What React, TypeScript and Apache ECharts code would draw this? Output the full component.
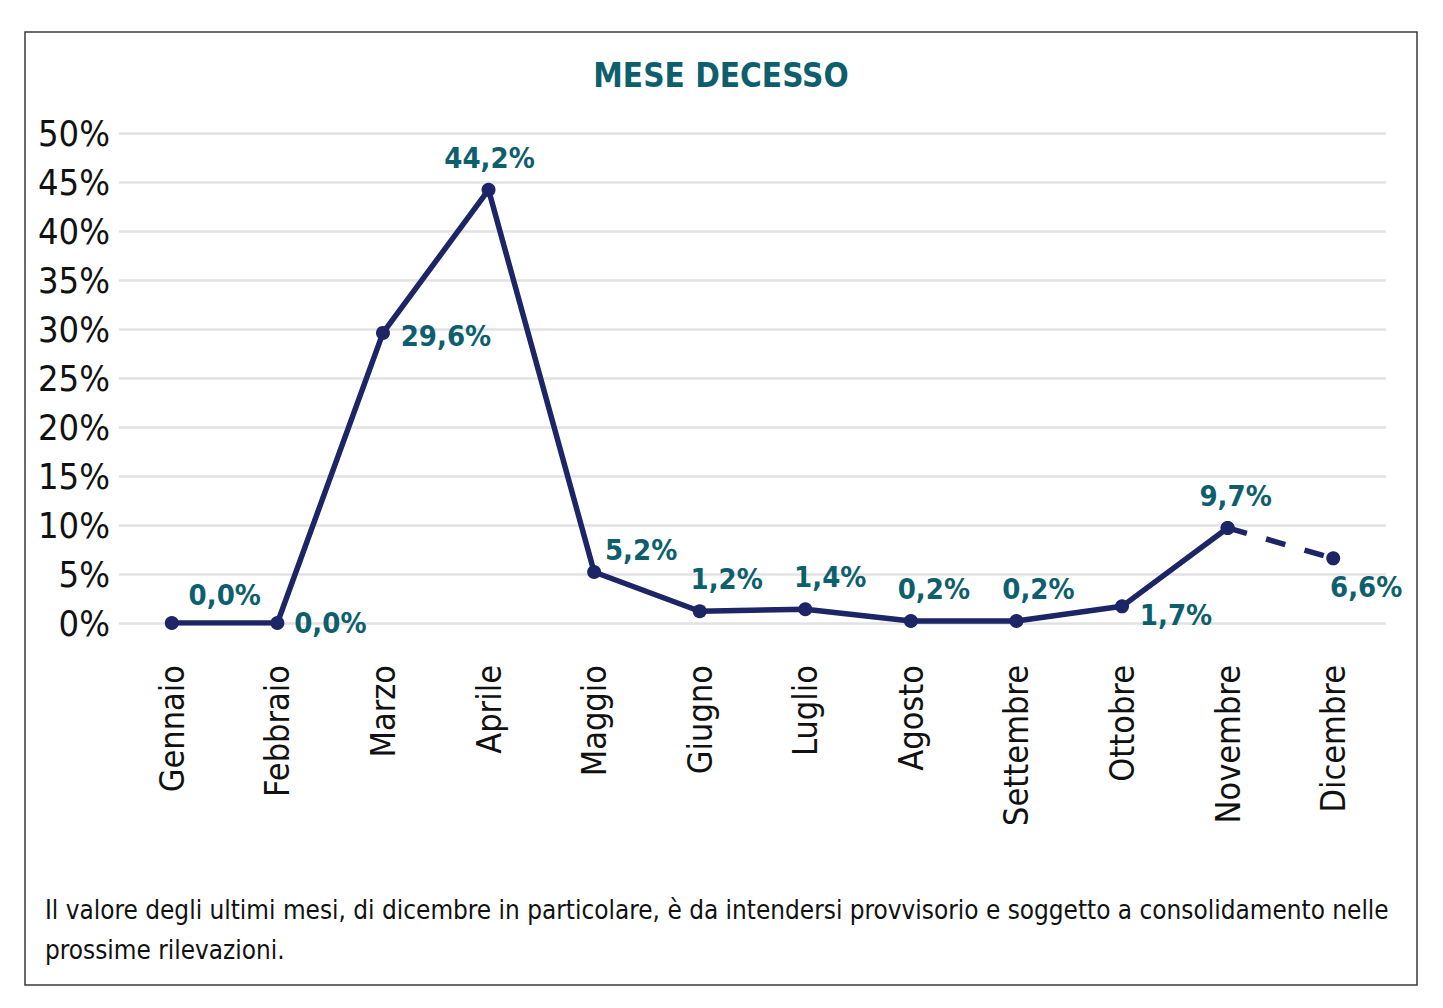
import React, { useEffect, useRef } from "react";
import * as echarts from "echarts";

const categories = ["Gennaio", "Febbraio", "Marzo", "Aprile", "Maggio", "Giugno", "Luglio", "Agosto", "Settembre", "Ottobre", "Novembre", "Dicembre"];
const values = [0.0, 0.0, 29.6, 44.2, 5.2, 1.2, 1.4, 0.2, 0.2, 1.7, 9.7, 6.6];
const provisionalFrom = 10; // Novembre -> Dicembre drawn dashed
const labelOffsets: [number, number][] = [
  [53, -28], [53, 0], [63, 3], [1, -32], [47, -22], [27, -32],
  [25, -32], [23, -32], [22, -32], [54, 9], [8, -32], [33, 29],
];
const titleText = "MESE DECESSO";
const noteLines = [
  "Il valore degli ultimi mesi, di dicembre in particolare, è da intendersi provvisorio e soggetto a consolidamento nelle",
  "prossime rilevazioni.",
];

const FONT = "'Liberation Sans Narrow', 'Arial Narrow', 'DejaVu Sans Condensed', sans-serif";
const LINE = "#1c2566";
const TEAL = "#0e5f6d";

const fmt = (v: number) => v.toFixed(1).replace(".", ",") + "%";

export default function App() {
  const ref = useRef<HTMLDivElement>(null);
  useEffect(() => {
    if (!ref.current) return;
    const chart = echarts.init(ref.current, undefined, { renderer: "svg" });
    const labelFor = (i: number) => ({
      show: true,
      position: "inside" as const,
      offset: labelOffsets[i],
      formatter: () => fmt(values[i]),
      color: TEAL,
      fontFamily: FONT,
      fontSize: 29,
      fontWeight: "bold" as const,
    });
    const solidData = values.map((v, i) =>
      i <= provisionalFrom ? { value: v, label: labelFor(i) } : { value: null as any }
    );
    const dashedData = values.map((v, i) =>
      i >= provisionalFrom
        ? { value: v, label: i > provisionalFrom ? labelFor(i) : { show: false } }
        : { value: null as any }
    );
    chart.setOption({
      animation: false,
      backgroundColor: "#ffffff",
      title: {
        text: titleText,
        left: 716,
        textAlign: "center",
        top: 54,
        textStyle: { color: TEAL, fontFamily: FONT, fontSize: 33, fontWeight: "bold" },
      },
      grid: { left: 119, right: 57, top: 133, bottom: 385, containLabel: false },
      xAxis: {
        type: "category",
        data: categories,
        boundaryGap: true,
        axisLine: { show: false },
        axisTick: { show: false },
        axisLabel: {
          rotate: 90,
          margin: 42,
          color: "#111111",
          fontFamily: FONT,
          fontSize: 34,
          interval: 0,
        },
      },
      yAxis: {
        type: "value",
        min: 0,
        max: 50,
        interval: 5,
        axisLine: { show: false },
        axisTick: { show: false },
        axisLabel: {
          formatter: "{value}%",
          color: "#111111",
          fontFamily: FONT,
          fontSize: 36,
          margin: 9,
        },
        splitLine: { lineStyle: { color: "#e2e2e2", width: 2.5 } },
      },
      series: [
        {
          type: "line",
          data: solidData,
          symbol: "circle",
          symbolSize: 14,
          itemStyle: { color: LINE },
          lineStyle: { color: LINE, width: 5.5 },
          connectNulls: false,
          z: 3,
        },
        {
          type: "line",
          data: dashedData,
          symbol: "circle",
          symbolSize: 14,
          itemStyle: { color: LINE },
          lineStyle: { color: LINE, width: 5.5, type: [20, 20] },
          connectNulls: false,
          z: 2,
        },
      ],
      graphic: [
        {
          type: "rect",
          shape: { x: 25, y: 32, width: 1392, height: 953 },
          style: { fill: "none", stroke: "#3a3a3a", lineWidth: 1.5 },
          silent: true,
        },
        ...noteLines.map((t, i) => ({
          type: "text",
          left: 45,
          top: 897 + i * 40,
          style: { text: t, fill: "#111111", font: `25.9px ${FONT}` },
          silent: true,
        })),
      ],
    });
    return () => chart.dispose();
  }, []);
  return (
    <div
      ref={ref}
      style={{ position: "fixed", left: 0, top: 0, width: 1443, height: 1008, background: "#fff" }}
    />
  );
}
